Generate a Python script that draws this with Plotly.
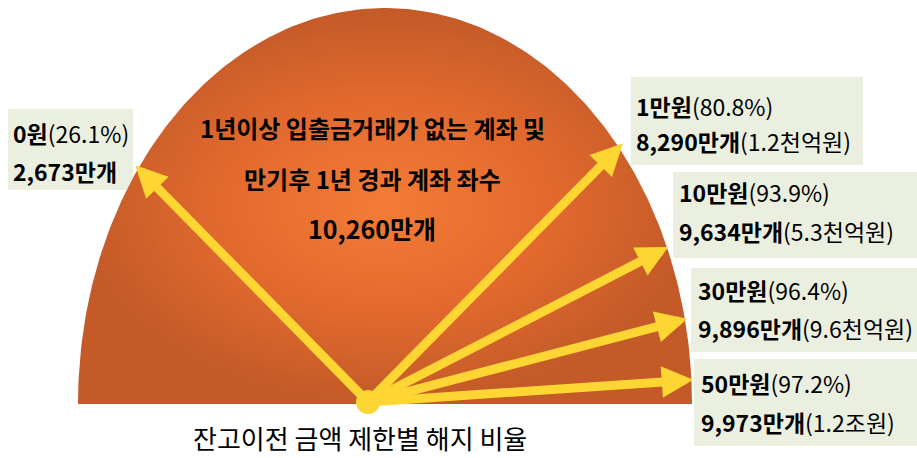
import numpy as np
import plotly.graph_objects as go

# ---- data ----
limits = ["0원", "1만원", "10만원", "30만원", "50만원"]
rates = ["26.1%", "80.8%", "93.9%", "96.4%", "97.2%"]
counts = ["2,673만개", "8,290만개", "9,634만개", "9,896만개", "9,973만개"]
amounts = ["", "1.2천억원", "5.3천억원", "9.6천억원", "1.2조원"]
center_lines = ["1년이상 입출금거래가 없는 계좌 및", "만기후 1년 경과 계좌 좌수", "10,260만개"]
bottom_title = "잔고이전 금액 제한별 해지 비율"

# ---- layout constants (pixel-like coordinate system) ----
W, H = 917, 458
FONT = "Noto Sans CJK KR"
cx, cy, rx, ry = 385, 404, 307, 396          # semi-ellipse
dot = (368, 402)
arrow_angle = [134.5, 45.4, 27.3, 14.6, 3.9]  # degrees
arrow_len = [332, 363, 338, 330, 326]
boxes = [(8, 109, 133, 190), (631, 77, 863, 165), (673, 172, 917, 258),
         (691, 268, 917, 352), (694, 359, 917, 446)]
text_x = [11, 634, 677, 696, 699]
text_y = [(133, 171), (106, 141), (192, 231), (290, 328), (383, 422)]

fig = go.Figure()

t = np.linspace(0, np.pi, 200)
ex = cx + rx * np.cos(t)
ey = cy - ry * np.sin(t)
fig.add_trace(go.Scatter(
    x=list(ex) + [ex[0]], y=list(ey) + [ey[0]], mode="lines", fill="toself",
    line=dict(width=0, color="rgba(0,0,0,0)"),
    fillgradient=dict(type="radial",
                      colorscale=[[0, "#F47C36"], [0.55, "#E1692E"], [1, "#C35A28"]]),
    hoverinfo="skip", showlegend=False))

shapes = []
for (x0, y0, x1, y1) in boxes:
    shapes.append(dict(type="rect", xref="x", yref="y", x0=x0, y0=y0, x1=x1, y1=y1,
                       fillcolor="#EBEFE0", line=dict(width=0), layer="below"))

annotations = []
for a, L in zip(arrow_angle, arrow_len):
    r = np.radians(a)
    tx = dot[0] + L * np.cos(r)
    ty = dot[1] - L * np.sin(r)
    annotations.append(dict(x=tx, y=ty, ax=dot[0], ay=dot[1], xref="x", yref="y",
                            axref="x", ayref="y", text="", showarrow=True,
                            arrowhead=2, arrowsize=0.7, arrowwidth=9,
                            arrowcolor="#FDD634"))

for i in range(len(limits)):
    l1 = f"<b>{limits[i]}</b>({rates[i]})"
    l2 = f"<b>{counts[i]}</b>" + (f"({amounts[i]})" if amounts[i] else "")
    for txt, yy in zip([l1, l2], text_y[i]):
        annotations.append(dict(x=text_x[i], y=yy, xref="x", yref="y", text=txt,
                                showarrow=False, xanchor="left", yanchor="middle",
                                font=dict(family=FONT, size=23, color="#000000")))

for txt, yy, sz in zip(center_lines, [127, 178, 228], [24, 24, 25]):
    annotations.append(dict(x=372, y=yy, xref="x", yref="y", text=f"<b>{txt}</b>",
                            showarrow=False, xanchor="center", yanchor="middle",
                            font=dict(family=FONT, size=sz, color="#000000")))

annotations.append(dict(x=360, y=437, xref="x", yref="y", text=bottom_title,
                        showarrow=False, xanchor="center", yanchor="middle",
                        borderpad=0,
                        font=dict(family=FONT, size=26, color="#000000")))

shapes.append(dict(type="circle", xref="x", yref="y", x0=dot[0] - 12, y0=dot[1] - 12,
                   x1=dot[0] + 12, y1=dot[1] + 12, fillcolor="#FDD634",
                   line=dict(width=0), layer="above"))

fig.update_layout(
    width=W, height=H, margin=dict(l=0, r=0, t=0, b=0),
    paper_bgcolor="white", plot_bgcolor="white",
    xaxis=dict(range=[0, W], visible=False, fixedrange=True),
    yaxis=dict(range=[H, 0], visible=False, fixedrange=True),
    shapes=shapes, annotations=annotations, showlegend=False)

fig.write_html("out.html")
